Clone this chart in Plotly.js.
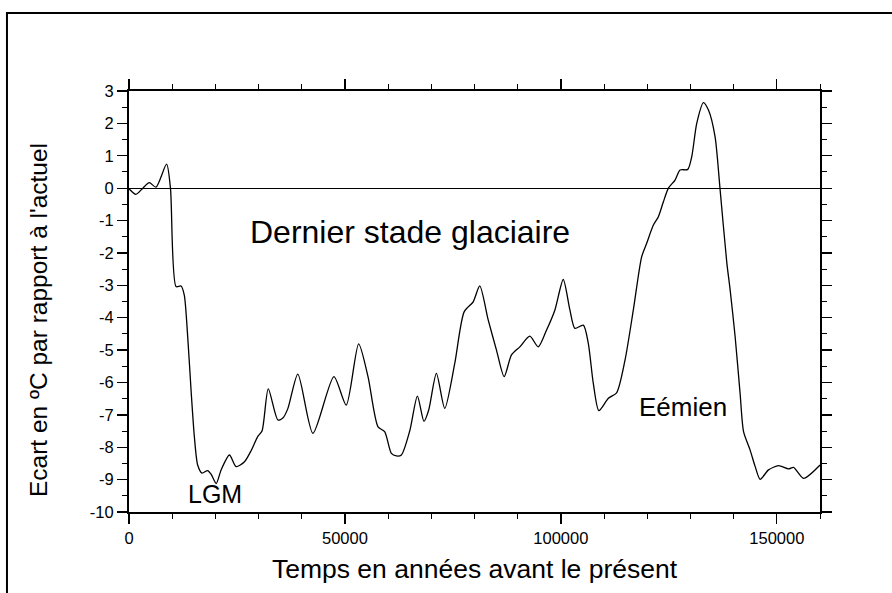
<!DOCTYPE html>
<html>
<head>
<meta charset="utf-8">
<script src="https://cdn.plot.ly/plotly-3.0.1.min.js"></script>
<style>html,body{margin:0;padding:0;background:#fff;}#chart{width:892px;height:593px;}</style>
</head>
<body>
<div id="chart"></div>
<script>
// Years before present
const years = [0, 1600, 3200, 4700, 6260, 8700, 9600, 10900, 12050, 12800, 13600, 14400, 15150, 15900, 16900, 18200, 19000, 20200, 21330, 23260, 24800, 26740, 28300, 29800, 30800, 32250, 34480, 35630, 36800, 39100, 42590, 47450, 50300, 53170, 55340, 57660, 59200, 60750, 61900, 63070, 65000, 66780, 68300, 69400, 71180, 73110, 75430, 77600, 79690, 81220, 83170, 85090, 86870, 88570, 90500, 92810, 94760, 96690, 98620, 100550, 102090, 103250, 105190, 106350, 107510, 108800, 111000, 112900, 114850, 116780, 118700, 119870, 121420, 122580, 123740, 124900, 126440, 127600, 129380, 130300, 131460, 133000, 134170, 135700, 136860, 138420, 139200, 140350, 141500, 142300, 143820, 145000, 146140, 148080, 150400, 152720, 153880, 156200, 160000];
// Temperature anomaly (°C) relative to present
const anomaly = [-0.02, -0.19, 0.0, 0.17, 0.03, 0.74, 0.0, -3.04, -3.02, -3.3, -4.6, -6.3, -7.7, -8.55, -8.8, -8.72, -8.83, -9.12, -8.7, -8.24, -8.6, -8.45, -8.1, -7.67, -7.5, -6.2, -7.16, -7.1, -6.8, -5.74, -7.57, -5.82, -6.7, -4.81, -5.82, -7.37, -7.52, -8.19, -8.27, -8.24, -7.5, -6.42, -7.2, -6.85, -5.72, -6.8, -5.41, -3.82, -3.51, -3.02, -4.07, -5.0, -5.82, -5.15, -4.9, -4.57, -4.9, -4.38, -3.76, -2.82, -3.76, -4.33, -4.23, -4.79, -6.03, -6.87, -6.49, -6.32, -5.31, -3.76, -2.12, -1.7, -1.14, -0.88, -0.42, 0.0, 0.25, 0.56, 0.58, 0.97, 2.0, 2.64, 2.41, 1.59, -0.03, -2.3, -3.15, -4.59, -6.34, -7.52, -8.09, -8.6, -8.99, -8.7, -8.57, -8.67, -8.62, -8.96, -8.55];
const xTickVals = [0, 50000, 100000, 150000];
const xTickLabels = ['0', '50000', '100000', '150000'];
const yTickVals = [-10, -9, -8, -7, -6, -5, -4, -3, -2, -1, 0, 1, 2, 3];
const yTickLabels = ['-10', '-9', '-8', '-7', '-6', '-5', '-4', '-3', '-2', '-1', '0', '1', '2', '3'];
const yTitle = "Ecart en ºC par rapport à l'actuel";
const xTitle = 'Temps en années avant le présent';
const labels = [
  {text: 'Dernier stade glaciaire', x: 65000, y: -1.35, size: 32},
  {text: 'LGM', x: 20000, y: -9.45, size: 25},
  {text: 'Eémien', x: 128300, y: -6.75, size: 26}
];

const font = 'Liberation Sans, Arial, Helvetica, sans-serif';

const trace = {
  x: years, y: anomaly, type: 'scatter', mode: 'lines',
  line: {color: '#000', width: 1.3, shape: 'spline', smoothing: 0.7},
  hoverinfo: 'skip'
};

const annots = labels.map(l => ({
  text: l.text, x: l.x, y: l.y, xref: 'x', yref: 'y', showarrow: false,
  font: {size: l.size, family: font, color: '#000'}
}));
annots.push({
  text: yTitle, xref: 'paper', yref: 'paper', x: -0.1317, y: 0.456,
  textangle: -90, showarrow: false, xanchor: 'center', yanchor: 'middle',
  font: {size: 24.5, family: font, color: '#000'}
});

const layout = {
  width: 892, height: 593,
  margin: {l: 129, r: 72, t: 91, b: 81},
  paper_bgcolor: '#fff', plot_bgcolor: '#fff',
  showlegend: false,
  font: {family: font, color: '#000'},
  xaxis: {
    range: [0, 160000], tickmode: 'array', tickvals: xTickVals, ticktext: xTickLabels,
    ticks: 'outside', ticklen: 10, tickwidth: 1.3, tickcolor: '#000',
    minor: {dtick: 10000, tick0: 0, ticks: 'outside', ticklen: 5, tickwidth: 1, tickcolor: '#000', showgrid: false},
    showline: true, linewidth: 2, linecolor: '#000', mirror: 'ticks',
    showgrid: false, zeroline: false,
    tickfont: {size: 16.5, family: font},
    title: {text: xTitle, font: {size: 26.5, family: font}, standoff: 14}
  },
  yaxis: {
    range: [-10, 3], tickmode: 'array', tickvals: yTickVals, ticktext: yTickLabels,
    ticks: 'outside', ticklen: 10, tickwidth: 1.3, tickcolor: '#000',
    minor: {dtick: 0.5, tick0: 0, ticks: 'outside', ticklen: 5, tickwidth: 1, tickcolor: '#000', showgrid: false},
    showline: true, linewidth: 2, linecolor: '#000', mirror: 'ticks',
    showgrid: false, zeroline: true, zerolinecolor: '#000', zerolinewidth: 1,
    tickfont: {size: 16.5, family: font}
  },
  annotations: annots,
  shapes: [{
    type: 'rect', xref: 'paper', yref: 'paper',
    x0: -0.1766, x1: 1.2, y0: -0.3, y1: 1.185,
    line: {color: '#000', width: 2}
  }]
};

Plotly.newPlot('chart', [trace], layout, {staticPlot: true, displayModeBar: false});
</script>
</body>
</html>
